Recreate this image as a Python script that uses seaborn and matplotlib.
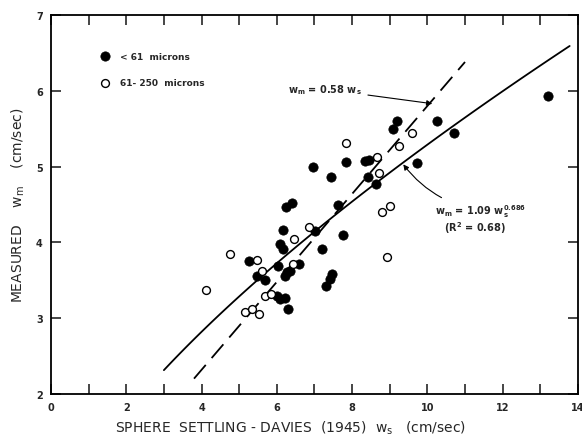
import numpy as np
import pandas as pd
import matplotlib
matplotlib.use("Agg")
import matplotlib.pyplot as plt
import seaborn as sns

# < 61 microns (filled)
fine_ws = [13.2, 10.25, 10.72, 9.2, 9.1, 9.73, 6.97, 7.45, 7.85, 8.35, 8.46, 8.42,
           8.63, 7.63, 6.25, 6.4, 6.17, 7.02, 7.75, 6.08, 6.17, 7.19, 6.6, 5.27,
           6.04, 6.27, 6.22, 6.36, 5.48, 5.69, 7.47, 7.42, 7.31, 6.01, 6.09, 6.22, 6.3]
fine_wm = [5.93, 5.6, 5.44, 5.6, 5.5, 5.05, 5.0, 4.86, 5.06, 5.07, 5.09, 4.86,
           4.77, 4.49, 4.47, 4.52, 4.16, 4.15, 4.1, 3.98, 3.91, 3.92, 3.72, 3.76,
           3.69, 3.61, 3.56, 3.63, 3.56, 3.5, 3.58, 3.52, 3.42, 3.29, 3.25, 3.27, 3.12]

# 61-250 microns (open)
coarse_ws = [7.85, 9.6, 9.25, 8.67, 8.72, 8.8, 9.02, 6.85, 6.46, 8.93,
             6.42, 4.76, 5.48, 5.61, 4.12, 5.69, 5.85, 5.16, 5.35, 5.53]
coarse_wm = [5.31, 5.44, 5.27, 5.13, 4.92, 4.4, 4.48, 4.21, 4.04, 3.81,
             3.71, 3.85, 3.77, 3.62, 3.37, 3.29, 3.32, 3.08, 3.12, 3.05]

# fitted curves shown on the chart
power_a, power_b = 1.09, 0.686
power_range = (3.0, 13.78)
linear_k = 0.58
linear_range = (3.8, 11.0)

fine = pd.DataFrame({"ws": fine_ws, "wm": fine_wm})
coarse = pd.DataFrame({"ws": coarse_ws, "wm": coarse_wm})

xs = np.linspace(*power_range, 100)
power = pd.DataFrame({"ws": xs, "wm": power_a * xs ** power_b})
xl = np.array(linear_range)
linear = pd.DataFrame({"ws": xl, "wm": linear_k * xl})

sns.set_style("ticks")
plt.rcParams["font.family"] = ["DejaVu Sans"]
plt.rcParams["mathtext.default"] = "regular"

fig = plt.figure(figsize=(5.82, 4.39), dpi=100)
ax = fig.add_axes([0.0876, 0.100, 0.9054, 0.8636])

sns.lineplot(data=power, x="ws", y="wm", ax=ax, color="black", lw=1.3)
sns.lineplot(data=linear, x="ws", y="wm", ax=ax, color="black", lw=1.3,
             dashes=False, linestyle=(0, (10, 5)))

sns.scatterplot(data=fine, x="ws", y="wm", ax=ax, color="black", s=45,
                edgecolor="black", linewidth=0.5, label="< 61  microns", zorder=3)
sns.scatterplot(data=coarse, x="ws", y="wm", ax=ax, facecolor="white", s=32,
                edgecolor="black", linewidth=1.0, label="61- 250  microns", zorder=3)

ax.set_xlim(0, 14)
ax.set_ylim(2, 7)
ax.set_xticks(range(0, 15, 2))
ax.set_xticks(range(1, 14, 2), minor=True)
ax.set_yticks(range(2, 8))
ax.tick_params(which="both", direction="in", top=True, right=True,
               length=7, width=1.2, labelsize=7, pad=6)
for lab in ax.get_xticklabels() + ax.get_yticklabels():
    lab.set_fontweight("bold")
for sp in ax.spines.values():
    sp.set_linewidth(1.3)
    sp.set_color("black")

ax.set_xlabel(r"SPHERE  SETTLING - DAVIES  (1945)  $w_s$   (cm/sec)", fontsize=10)
ax.xaxis.set_label_coords(0.455, -0.064)
ax.set_ylabel(r"MEASURED    $w_m$    (cm/sec)", fontsize=10)
ax.yaxis.set_label_coords(-0.045, 0.5)

leg = ax.legend(loc="upper left", bbox_to_anchor=(0.085, 0.915), frameon=False,
                fontsize=6.5, handletextpad=1.2, labelspacing=1.9,
                borderpad=0, handlelength=1)
for t in leg.get_texts():
    t.set_fontweight("bold")

ax.annotate(r"$w_m$ = 0.58 $w_s$", xy=(10.13, 5.83), xytext=(6.3, 6.02),
            fontsize=7, fontweight="bold", va="center",
            arrowprops=dict(arrowstyle="-|>", color="black", lw=0.8,
                            shrinkA=2, shrinkB=0, mutation_scale=8))
ax.annotate(r"$w_m$ = 1.09 $w_s^{0.686}$", xy=(9.36, 5.03), xytext=(10.2, 4.42),
            fontsize=7, fontweight="bold", va="center",
            arrowprops=dict(arrowstyle="-|>", color="black", lw=0.8,
                            shrinkA=2, shrinkB=0, mutation_scale=8,
                            connectionstyle="arc3,rad=-0.2"))
ax.text(11.25, 4.2, r"(R$^2$ = 0.68)", fontsize=7, fontweight="bold",
        ha="center", va="center")

fig.savefig("out.png", dpi=100)
